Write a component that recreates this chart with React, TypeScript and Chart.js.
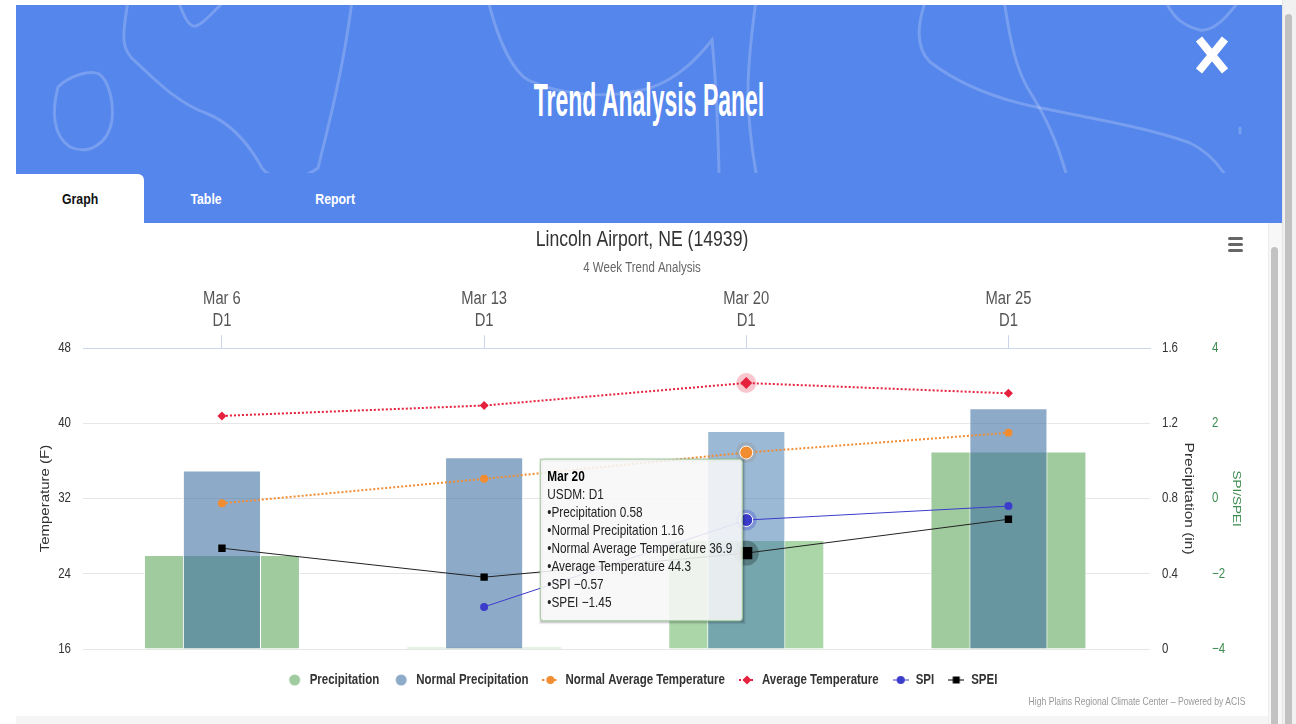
import React, { useEffect, useRef } from 'react';
import { Chart, registerables, Tooltip } from 'chart.js';

Chart.register(...registerables);

// ---------- data ----------
const categories = ['Mar 6', 'Mar 13', 'Mar 20', 'Mar 25'];
const droughtLevels = ['D1', 'D1', 'D1', 'D1'];
const precipitation = [0.5, 0.01, 0.58, 1.05];
const normalPrecipitation = [0.95, 1.02, 1.16, 1.28];
const normalAvgTemp = [31.5, 34.1, 36.9, 39.0];
const avgTemp = [40.8, 41.9, 44.3, 43.2];
const spi: (number | null)[] = [null, -2.88, -0.57, -0.2];
const spei = [-1.32, -2.09, -1.45, -0.55];

const tempRange = [16, 48, 8];
const precipRange = [0, 1.6, 0.4];
const spiRange = [-4, 4, 2];
const activeIndex = 2;

const FONT = '"Liberation Sans", Arial, sans-serif';
const SX = 0.82; // horizontal text compression
const GREEN_AXIS = '#3d8c50';

Chart.defaults.font.family = FONT;

const fmt = (v: number) => (v < 0 ? '\u2212' + Math.abs(v) : String(v));

(Tooltip.positioners as any).hcLeft = function (items: any[]) {
  if (!items.length) return false;
  const el = items[0].element;
  return { x: el.x, y: el.y };
};

const haloColors = [null, null, 'rgba(150,150,150,0.35)', 'rgba(229,33,61,0.25)', 'rgba(60,60,204,0.3)', 'rgba(0,0,0,0.25)'];

const haloPlugin = {
  id: 'halo',
  beforeDatasetDraw(chart: any, args: any) {
    const color = haloColors[args.index];
    if (!color) return;
    const act = chart.getActiveElements().filter((a: any) => a.datasetIndex === args.index);
    const ctx = chart.ctx;
    act.forEach((a: any) => {
      const el = a.element;
      const r = (el.options && el.options.radius ? el.options.radius : 5) + 4;
      ctx.save();
      ctx.fillStyle = color;
      ctx.beginPath();
      ctx.arc(el.x, el.y, r, 0, Math.PI * 2);
      ctx.fill();
      ctx.restore();
    });
  },
};

const shadowPlugin = {
  id: 'tipShadow',
  beforeTooltipDraw(chart: any, args: any) {
    const t = args.tooltip;
    if (!t || !t.opacity) return;
    const ctx = chart.ctx;
    ctx.save();
    const layers = [
      [5, 0.05],
      [3, 0.1],
      [1, 0.15],
    ];
    layers.forEach(([w, o]) => {
      ctx.strokeStyle = `rgba(0,0,0,${o})`;
      ctx.lineWidth = w;
      ctx.strokeRect(t.x + 1, t.y + 1, t.width, t.height);
    });
    ctx.restore();
  },
};

// compress all canvas text horizontally (page x), keeping its anchor point
function patchContext(ctx: any) {
  const origFill = ctx.fillText.bind(ctx);
  const origMeasure = ctx.measureText.bind(ctx);
  ctx.fillText = (text: string, x: number, y: number) => {
    const m = ctx.getTransform();
    const px = m.a * x + m.c * y + m.e;
    ctx.setTransform(SX * m.a, m.b, SX * m.c, m.d, SX * m.e + px * (1 - SX), m.f);
    origFill(text, x, y);
    ctx.setTransform(m);
  };
  ctx.measureText = (text: string) => {
    const r = origMeasure(text);
    return {
      width: r.width * SX,
      actualBoundingBoxAscent: r.actualBoundingBoxAscent,
      actualBoundingBoxDescent: r.actualBoundingBoxDescent,
      actualBoundingBoxLeft: r.actualBoundingBoxLeft * SX,
      actualBoundingBoxRight: r.actualBoundingBoxRight * SX,
      fontBoundingBoxAscent: r.fontBoundingBoxAscent,
      fontBoundingBoxDescent: r.fontBoundingBoxDescent,
    };
  };
}

function makeIcon(kind: string, color: string): HTMLCanvasElement {
  const c = document.createElement('canvas');
  c.width = 16;
  c.height = 12;
  const g = c.getContext('2d')!;
  g.fillStyle = color;
  g.strokeStyle = color;
  if (kind === 'bubble') {
    g.beginPath();
    g.arc(8, 6, 5.5, 0, Math.PI * 2);
    g.fill();
    return c;
  }
  const dotted = kind === 'dotCircle' || kind === 'dotDiamond';
  g.lineWidth = dotted ? 2 : 1;
  if (dotted) g.setLineDash([2, 2]);
  g.beginPath();
  g.moveTo(0, 6);
  g.lineTo(16, 6);
  g.stroke();
  g.setLineDash([]);
  g.beginPath();
  if (kind === 'dotCircle' || kind === 'circle') {
    g.arc(8, 6, 4, 0, Math.PI * 2);
  } else if (kind === 'dotDiamond') {
    g.moveTo(8, 1.5);
    g.lineTo(12.5, 6);
    g.lineTo(8, 10.5);
    g.lineTo(3.5, 6);
    g.closePath();
  } else {
    g.rect(4.5, 2.5, 7, 7);
  }
  g.fill();
  return c;
}

const pts = (arr: (number | null)[]) => arr.map((v, i) => ({ x: i, y: v }));

function TrendChart() {
  const ref = useRef<HTMLCanvasElement | null>(null);
  useEffect(() => {
    if (!ref.current) return;
    const ctx = ref.current.getContext('2d')!;
    patchContext(ctx);
    const icons = [
      makeIcon('bubble', '#a0cb9e'),
      makeIcon('bubble', '#8dabc8'),
      makeIcon('dotCircle', '#f28c31'),
      makeIcon('dotDiamond', '#e5213d'),
      makeIcon('circle', '#3c3ccc'),
      makeIcon('square', '#000000'),
    ];
    const barCommon = {
      type: 'bar',
      yAxisID: 'yP',
      borderColor: '#ffffff',
      hoverBorderColor: '#ffffff',
      borderWidth: 1,
      hoverBorderWidth: 1,
      grouped: false,
      barPercentage: 1,
    };
    const lineCommon = {
      type: 'line',
      fill: false,
      tension: 0,
      pointBorderWidth: 0,
    };
    const chart = new Chart(ctx, {
      type: 'bar',
      data: {
        datasets: [
          {
            ...barCommon,
            label: 'Precipitation',
            data: pts(precipitation),
            backgroundColor: '#a0cb9e',
            hoverBackgroundColor: '#aad6a8',
            categoryPercentage: 0.595,
            order: 3,
          } as any,
          {
            ...barCommon,
            label: 'Normal Precipitation',
            data: pts(normalPrecipitation),
            backgroundColor: 'rgba(65,115,163,0.6)',
            hoverBackgroundColor: 'rgba(72,128,178,0.55)',
            categoryPercentage: 0.298,
            order: 2,
          } as any,
          {
            ...lineCommon,
            label: 'Normal Average Temperature',
            data: pts(normalAvgTemp),
            yAxisID: 'y',
            borderColor: '#f28c31',
            backgroundColor: '#f28c31',
            borderWidth: 2,
            borderDash: [2, 2],
            pointStyle: 'circle',
            pointRadius: 4,
            pointBackgroundColor: '#f28c31',
            pointHoverRadius: 6.5,
            pointHoverBorderWidth: 1,
            pointHoverBorderColor: '#ffffff',
            pointHoverBackgroundColor: '#f28c31',
            order: 1,
          } as any,
          {
            ...lineCommon,
            label: 'Average Temperature',
            data: pts(avgTemp),
            yAxisID: 'y',
            borderColor: '#e5213d',
            backgroundColor: '#e5213d',
            borderWidth: 2,
            borderDash: [2, 2],
            pointStyle: 'rectRot',
            pointRadius: 4.5,
            pointBackgroundColor: '#e5213d',
            pointHoverRadius: 6,
            pointHoverBorderWidth: 0,
            pointHoverBackgroundColor: '#e5213d',
            order: 1,
          } as any,
          {
            ...lineCommon,
            label: 'SPI',
            data: pts(spi),
            yAxisID: 'yS',
            borderColor: '#3c3ccc',
            backgroundColor: '#3c3ccc',
            borderWidth: 1,
            pointStyle: 'circle',
            pointRadius: 4,
            pointBackgroundColor: '#3c3ccc',
            pointHoverRadius: 6.5,
            pointHoverBorderWidth: 1,
            pointHoverBorderColor: '#ffffff',
            pointHoverBackgroundColor: '#3c3ccc',
            order: 0,
          } as any,
          {
            ...lineCommon,
            label: 'SPEI',
            data: pts(spei),
            yAxisID: 'yS',
            borderColor: '#222222',
            backgroundColor: '#000000',
            borderWidth: 1,
            pointStyle: 'rect',
            pointRadius: 5.2,
            pointBackgroundColor: '#000000',
            pointHoverRadius: 8.5,
            pointHoverBorderWidth: 0,
            pointHoverBackgroundColor: '#000000',
            order: 0,
          } as any,
        ],
      },
      options: {
        responsive: false,
        animation: false,
        events: [],
        font: { family: FONT },
        layout: { padding: { left: 0, right: 0, top: 0, bottom: 18 } },
        scales: {
          x: {
            type: 'linear',
            position: 'top',
            offset: false,
            min: -0.53,
            max: 3.54,
            bounds: 'data',
            afterBuildTicks: (s: any) => {
              s.ticks = categories.map((_, i) => ({ value: i }));
            },
            afterFit: (s: any) => {
              s.height = 60;
            },
            ticks: {
              autoSkip: false,
              maxRotation: 0,
              minRotation: 0,
              padding: 3,
              color: '#555555',
              font: { family: FONT, size: 18, lineHeight: 22 / 18 },
              callback: (v: any) => [categories[v], droughtLevels[v]],
            },
            grid: { offset: false, drawOnChartArea: false, drawTicks: true, tickLength: 13, color: '#ccd6eb', lineWidth: 1 },
            border: { display: true, color: '#ccd6eb' },
          } as any,
          y: {
            type: 'linear',
            position: 'left',
            min: tempRange[0],
            max: tempRange[1],
            afterFit: (s: any) => {
              s.width = 67;
            },
            ticks: { stepSize: tempRange[2], color: '#333333', padding: 12, font: { family: FONT, size: 14 } },
            grid: { color: '#e6e6e6', drawTicks: false },
            border: { display: false },
            title: {
              display: true,
              text: 'Temperature (F)',
              color: '#333333',
              font: { family: FONT, size: 15 },
              padding: { top: 21, bottom: 0 },
            },
          } as any,
          yP: {
            type: 'linear',
            position: 'right',
            min: precipRange[0],
            max: precipRange[1],
            afterFit: (s: any) => {
              s.width = 52;
            },
            ticks: { stepSize: precipRange[2], color: '#333333', padding: 12, font: { family: FONT, size: 14 } },
            grid: { drawOnChartArea: false, drawTicks: false },
            border: { display: false },
            title: {
              display: true,
              text: 'Precipitation (in)',
              color: '#333333',
              font: { family: FONT, size: 15.5 },
              padding: { top: 4, bottom: 0 },
            },
          } as any,
          yS: {
            type: 'linear',
            position: 'right',
            weight: 1,
            min: spiRange[0],
            max: spiRange[1],
            afterFit: (s: any) => {
              s.width = 66;
            },
            ticks: {
              stepSize: spiRange[2],
              color: GREEN_AXIS,
              padding: 10,
              font: { family: FONT, size: 14 },
              callback: (v: any) => fmt(Number(v)),
            },
            grid: { drawOnChartArea: false, drawTicks: false },
            border: { display: false },
            title: {
              display: true,
              text: 'SPI/SPEI',
              color: GREEN_AXIS,
              font: { family: FONT, size: 13.5 },
              padding: { top: 24, bottom: 0 },
            },
          } as any,
        },
        plugins: {
          title: {
            display: true,
            text: 'Lincoln Airport, NE (14939)',
            color: '#333333',
            font: { family: FONT, size: 21.5, weight: 'normal', lineHeight: 1.2 },
            padding: { top: 4, bottom: 7 },
          },
          subtitle: {
            display: true,
            text: '4 Week Trend Analysis',
            color: '#666666',
            font: { family: FONT, size: 14, lineHeight: 1.2 },
            padding: { top: 0, bottom: 11.6 },
          },
          legend: {
            display: true,
            position: 'bottom',
            title: { display: true, text: '', font: { size: 2, lineHeight: 1 }, padding: { top: 8, bottom: 0 } },
            labels: {
              usePointStyle: true,
              pointStyleWidth: 16,
              boxHeight: 12,
              padding: 14,
              color: '#333333',
              font: { family: FONT, size: 14, weight: 'bold' },
              generateLabels: (c: any) =>
                c.data.datasets.map((ds: any, i: number) => ({
                  text: ds.label,
                  pointStyle: icons[i],
                  fillStyle: 'rgba(0,0,0,0)',
                  strokeStyle: 'rgba(0,0,0,0)',
                  lineWidth: 0,
                  hidden: false,
                  datasetIndex: i,
                  fontColor: '#333333',
                })),
            },
          } as any,
          tooltip: {
            enabled: true,
            animation: false,
            position: 'hcLeft',
            xAlign: 'right',
            yAlign: 'center',
            caretSize: 0,
            caretPadding: 4,
            backgroundColor: 'rgba(247,247,247,0.88)',
            borderColor: '#a3cfa0',
            borderWidth: 1,
            cornerRadius: 3,
            padding: { top: 9.6, bottom: 9.6, left: 7, right: 10 },
            titleColor: '#000000',
            titleFont: { family: FONT, size: 14.4, weight: 'bold' },
            titleMarginBottom: 0,
            bodyColor: '#222222',
            bodyFont: { family: FONT, size: 14.4 },
            bodySpacing: 0.7,
            displayColors: false,
            callbacks: {
              title: (items: any[]) => categories[items[0].dataIndex],
              beforeBody: (items: any[]) => 'USDM: ' + droughtLevels[items[0].dataIndex],
              label: (item: any) => '\u2022' + item.dataset.label + ' ' + fmt(item.parsed.y),
            },
          } as any,
        },
      } as any,
      plugins: [haloPlugin, shadowPlugin],
    });

    const els = chart.data.datasets.map((_, i) => ({ datasetIndex: i, index: activeIndex }));
    chart.tooltip!.setActiveElements(els, { x: 0, y: 0 });
    chart.setActiveElements(els);
    chart.render();

    return () => chart.destroy();
  }, []);

  return (
    <canvas
      ref={ref}
      width={1252}
      height={492}
      style={{ position: 'absolute', left: 16, top: 223, width: 1252, height: 492 }}
    />
  );
}

function HeaderDecor() {
  const paths = [
    'M58,87 C52,110 52,135 70,147 C88,155 108,145 112,120 C114,100 108,80 99,74 C90,70 70,75 58,87 Z',
    'M128,0 C124,30 118,48 136,62 C160,85 180,104 208,114 C232,124 250,146 262,168 C270,180 300,182 318,168 C330,120 345,60 352,0',
    'M178,0 C184,18 190,28 196,26 C204,24 214,10 226,0',
    'M488,0 C498,40 512,70 528,80 C560,95 610,100 650,88 C680,78 700,55 712,40 C716,80 718,130 719,173',
    'M756,0 C752,30 748,60 748,90 C748,120 752,150 756,173',
    'M926,0 C915,30 918,50 930,62 C960,85 1000,100 1041,108 C1080,116 1150,128 1190,143 C1205,150 1215,160 1224,173',
    'M1004,0 C1010,40 1016,70 1030,92 C1045,115 1058,145 1066,173',
    'M1165,0 C1172,15 1180,25 1200,30 C1215,32 1228,15 1240,0',
    'M1240,128 L1240,133',
  ];
  return (
    <svg width={1266} height={168} style={{ position: 'absolute', left: 0, top: 0 }} viewBox="16 5 1266 168">
      {paths.map((d, i) => (
        <path key={i} d={d} fill="none" stroke="rgba(255,255,255,0.2)" strokeWidth={3} strokeLinecap="round" />
      ))}
    </svg>
  );
}

const tabStyle: React.CSSProperties = {
  position: 'absolute',
  top: 169,
  height: 49,
  textAlign: 'center',
  lineHeight: '49px',
  fontWeight: 'bold',
  fontSize: 15,
  whiteSpace: 'nowrap',
};

export default function App() {
  return (
    <div
      style={{
        position: 'absolute',
        left: 0,
        top: 0,
        width: 1296,
        height: 724,
        overflow: 'hidden',
        background: '#ffffff',
        fontFamily: FONT,
      }}
    >
      {/* header */}
      <div style={{ position: 'absolute', left: 16, top: 5, width: 1266, height: 218, background: '#5586ec', overflow: 'hidden' }}>
        <HeaderDecor />
        <div
          style={{
            position: 'absolute',
            left: 0,
            top: 72,
            width: '100%',
            textAlign: 'center',
            color: '#ffffff',
            fontWeight: 'bold',
            fontSize: 46,
            lineHeight: '46px',
            transform: 'scaleX(0.5)',
            whiteSpace: 'nowrap',
          }}
        >
          Trend Analysis Panel
        </div>
        <svg width={40} height={40} style={{ position: 'absolute', left: 1176, top: 30 }} viewBox="0 0 40 40">
          <path d="M7,4 L33,36 M33,4 L7,36" stroke="#ffffff" strokeWidth={8} strokeLinecap="butt" />
        </svg>
        <div style={{ ...tabStyle, left: 0, width: 128, background: '#ffffff', borderTopRightRadius: 6, color: '#111111' }}>
          <span style={{ display: 'inline-block', transform: `scaleX(${SX})` }}>Graph</span>
        </div>
        <div style={{ ...tabStyle, left: 140, width: 100, color: '#ffffff' }}>
          <span style={{ display: 'inline-block', transform: `scaleX(${SX})` }}>Table</span>
        </div>
        <div style={{ ...tabStyle, left: 269, width: 100, color: '#ffffff' }}>
          <span style={{ display: 'inline-block', transform: `scaleX(${SX})` }}>Report</span>
        </div>
      </div>

      <TrendChart />

      {/* hamburger */}
      {[237, 243, 249].map((y) => (
        <div key={y} style={{ position: 'absolute', left: 1228, top: y - 0.5, width: 15, height: 3.4, borderRadius: 2, background: '#666666' }} />
      ))}

      {/* credits */}
      <div
        style={{
          position: 'absolute',
          right: 1296 - 1245,
          top: 694,
          fontSize: 10.5,
          lineHeight: '14px',
          color: '#999999',
          whiteSpace: 'nowrap',
          transform: `scaleX(${SX})`,
          transformOrigin: '100% 50%',
        }}
      >
        High Plains Regional Climate Center – Powered by ACIS
      </div>

      {/* bottom band */}
      <div style={{ position: 'absolute', left: 16, top: 716, width: 1252, height: 8, background: '#f5f5f5' }} />

      {/* inner scrollbar */}
      <div style={{ position: 'absolute', left: 1268, top: 223, width: 14, height: 501, background: '#f7f7f7', borderLeft: '1px solid #ececec' }} />
      <div style={{ position: 'absolute', left: 1271, top: 247, width: 7, height: 480, background: '#c2c2c2', borderRadius: 4 }} />

      {/* outer scrollbar */}
      <div style={{ position: 'absolute', left: 1282, top: 0, width: 14, height: 724, background: '#f1f1f1', borderLeft: '1px solid #e4e4e4' }} />
      <div style={{ position: 'absolute', left: 1285, top: 14, width: 7, height: 720, background: '#c1c1c1', borderRadius: 4 }} />
    </div>
  );
}
